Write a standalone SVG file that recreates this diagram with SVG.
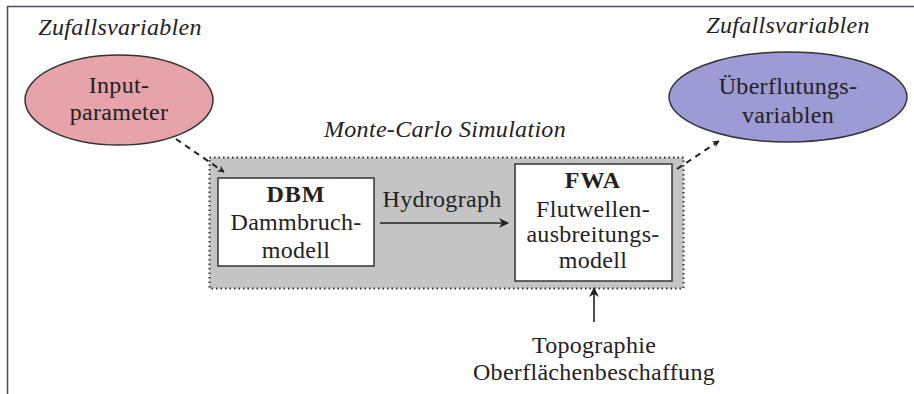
<svg xmlns="http://www.w3.org/2000/svg" width="914" height="394" viewBox="0 0 914 394">
<style>
text{font-family:"Liberation Serif","Times New Roman",serif;font-size:24px;letter-spacing:0.3px;fill:#222;text-anchor:middle}
.it{font-style:italic}
.b{font-weight:bold;letter-spacing:1px}
.box{fill:#fff;stroke:#333;stroke-width:1.5}
.dash{fill:none;stroke:#222;stroke-width:2;stroke-dasharray:6,5}
.solid{fill:none;stroke:#222;stroke-width:1.6}
</style>
<defs>
<marker id="ah" viewBox="0 0 10 10" refX="9" refY="5" markerWidth="7" markerHeight="7" orient="auto" markerUnits="userSpaceOnUse">
<path d="M0,0 L10,5 L0,10 L3,5 Z" fill="#222"/>
</marker>
<marker id="ah2" viewBox="0 0 10 10" refX="9" refY="5" markerWidth="10" markerHeight="10" orient="auto" markerUnits="userSpaceOnUse">
<path d="M0,0 L10,5 L0,10 L3,5 Z" fill="#222"/>
</marker>
</defs>
<rect width="914" height="394" fill="#fff"/>
<path d="M7.5,394 V6.5 H914" fill="none" stroke="#4a4a6a" stroke-width="1.5"/>
<text class="it" x="120" y="35">Zufallsvariablen</text>
<text class="it" x="788" y="33">Zufallsvariablen</text>
<text class="it" x="445" y="137">Monte-Carlo Simulation</text>
<g id="sim">
<rect x="209.5" y="157.5" width="474" height="131" fill="#c4c4c4" stroke="#333" stroke-width="2" stroke-dasharray="1.5,3"/>
</g>
<g id="input">
<ellipse cx="119" cy="100" rx="94" ry="45" fill="#e6a3aa" stroke="#333" stroke-width="1.5"/>
<text x="119" y="93">Input-</text>
<text x="119" y="120">parameter</text>
</g>
<g id="output">
<ellipse cx="788" cy="97" rx="119" ry="45" fill="#9c9bd6" stroke="#333" stroke-width="1.5"/>
<text x="788" y="94">Überflutungs-</text>
<text x="788" y="123">variablen</text>
</g>
<g id="dbm">
<rect class="box" x="218" y="178" width="156" height="88"/>
<text class="b" x="296" y="202">DBM</text>
<text x="296" y="230">Dammbruch-</text>
<text x="296" y="258">modell</text>
</g>
<g id="fwa">
<rect class="box" x="515" y="164" width="157" height="117"/>
<text class="b" x="593" y="188">FWA</text>
<text x="593" y="217">Flutwellen-</text>
<text x="593" y="242">ausbreitungs-</text>
<text x="593" y="268">modell</text>
</g>
<g id="topo">
<text x="594" y="353">Topographie</text>
<text x="594" y="380">Oberflächenbeschaffung</text>
</g>
<g id="connectors">
<path class="dash" d="M176,139 L224,172" marker-end="url(#ah)"/>
<path class="dash" d="M677,169 L719,141" marker-end="url(#ah)"/>
<path class="solid" d="M380,223 L508,223" marker-end="url(#ah2)"/>
<text x="442" y="207">Hydrograph</text>
<path class="solid" d="M594,322 L594,288" marker-end="url(#ah2)"/>
</g>
</svg>
